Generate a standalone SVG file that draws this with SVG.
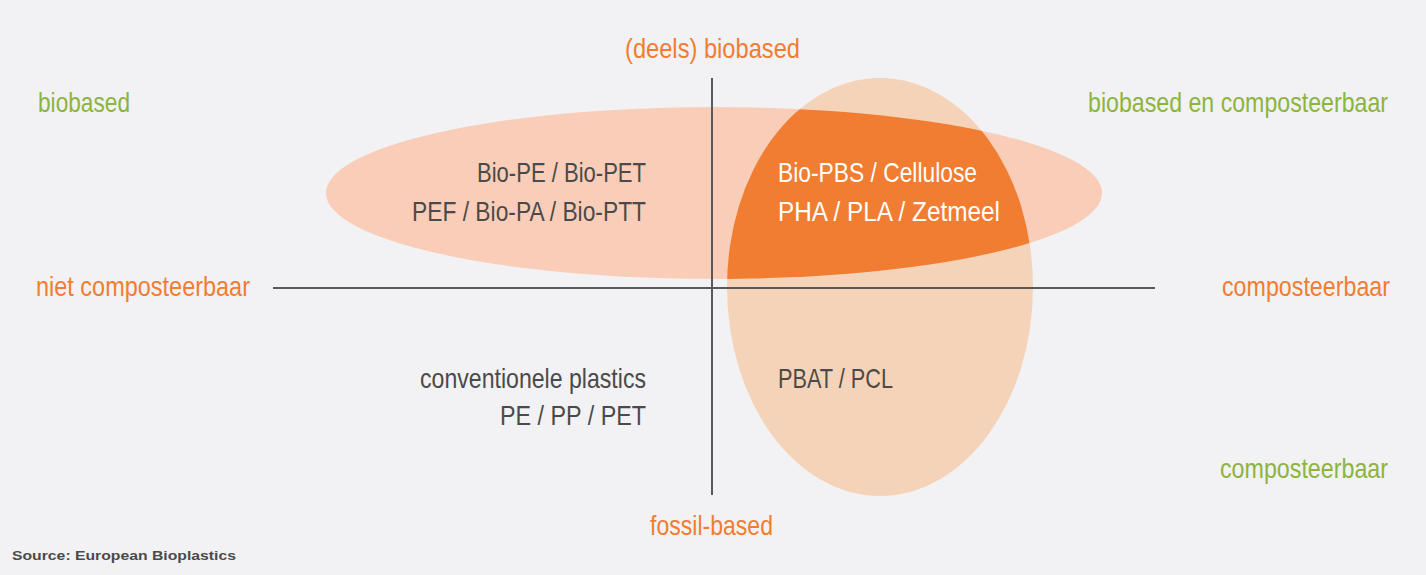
<svg xmlns="http://www.w3.org/2000/svg" width="1426" height="575" viewBox="0 0 1426 575">
<style>
text{font-family:"Liberation Sans",Arial,sans-serif;font-size:28px}
.g{fill:#8db43e}.o{fill:#f07d32}.d{fill:#4a4a4a}.w{fill:#fff}
.ax{stroke:#5a5a5a;stroke-width:2}
</style>
<defs><clipPath id="cv"><ellipse cx="880" cy="287" rx="153" ry="209"/></clipPath></defs>
<rect width="1426" height="575" fill="#f2f2f4"/>
<g id="ellipses">
<ellipse id="horizontal" cx="714" cy="193" rx="388" ry="86" fill="#f9cdb8"/>
<ellipse id="vertical" cx="880" cy="287" rx="153" ry="209" fill="#f5d3b8"/>
<ellipse id="overlap" cx="714" cy="193" rx="388" ry="86" fill="#f07d32" clip-path="url(#cv)"/>
</g>
<g id="connectors">
<line class="ax" x1="273" y1="288" x2="1155" y2="288"/>
<line class="ax" x1="712" y1="78" x2="712" y2="495"/>
</g>
<g id="labels">
<text class="g" x="38" y="112" textLength="92" lengthAdjust="spacingAndGlyphs">biobased</text>
<text class="o" x="625" y="58" textLength="175" lengthAdjust="spacingAndGlyphs">(deels) biobased</text>
<text class="g" x="1088" y="112" textLength="300" lengthAdjust="spacingAndGlyphs">biobased en composteerbaar</text>
<text class="o" x="36" y="296" textLength="214" lengthAdjust="spacingAndGlyphs">niet composteerbaar</text>
<text class="o" x="1222" y="296" textLength="168" lengthAdjust="spacingAndGlyphs">composteerbaar</text>
<text class="g" x="1220" y="478" textLength="168" lengthAdjust="spacingAndGlyphs">composteerbaar</text>
<text class="o" x="650" y="535" textLength="123" lengthAdjust="spacingAndGlyphs">fossil-based</text>
<text class="d" x="12" y="560" style="font-size:13px;font-weight:bold" textLength="224" lengthAdjust="spacingAndGlyphs">Source: European Bioplastics</text>
</g>
<g id="q1">
<text class="d" x="477" y="182" textLength="169" lengthAdjust="spacingAndGlyphs">Bio-PE / Bio-PET</text>
<text class="d" x="412" y="221" textLength="234" lengthAdjust="spacingAndGlyphs">PEF / Bio-PA / Bio-PTT</text>
</g>
<g id="q2">
<text class="w" x="778" y="182" textLength="199" lengthAdjust="spacingAndGlyphs">Bio-PBS / Cellulose</text>
<text class="w" x="778" y="221" textLength="222" lengthAdjust="spacingAndGlyphs">PHA / PLA / Zetmeel</text>
</g>
<g id="q3">
<text class="d" x="420" y="388" textLength="226" lengthAdjust="spacingAndGlyphs">conventionele plastics</text>
<text class="d" x="500" y="425" textLength="146" lengthAdjust="spacingAndGlyphs">PE / PP / PET</text>
</g>
<g id="q4">
<text class="d" x="778" y="388" textLength="115" lengthAdjust="spacingAndGlyphs">PBAT / PCL</text>
</g>
</svg>
